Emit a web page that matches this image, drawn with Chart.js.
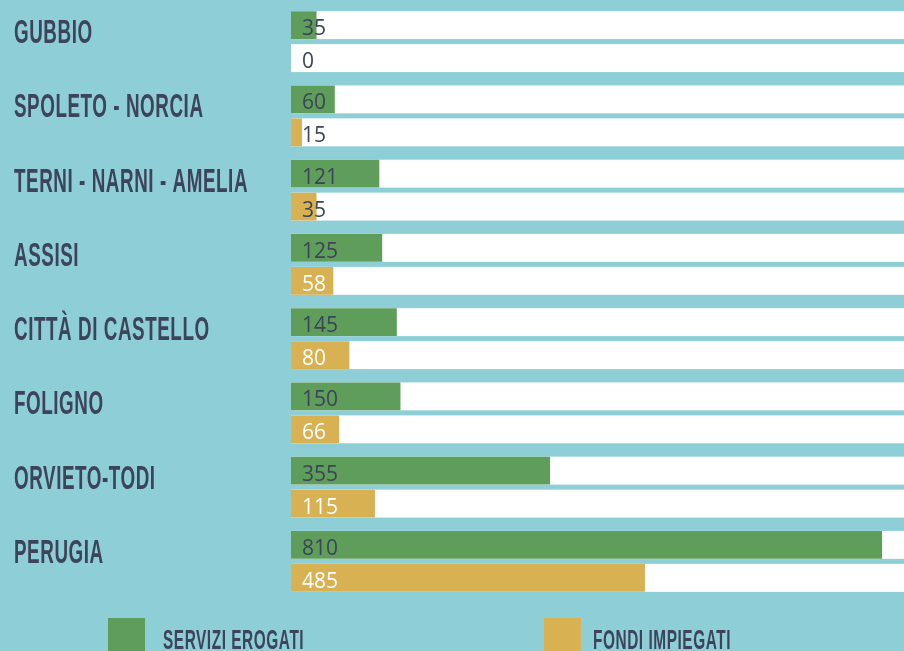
<!DOCTYPE html>
<html>
<head>
<meta charset="utf-8">
<script src="https://cdn.jsdelivr.net/npm/chart.js@4.4.0/dist/chart.umd.min.js"></script>
<style>
    body { margin: 0; background: #8dced7; }
    canvas { display: block; }
</style>
</head>
<body>
<canvas id="grafico" width="904" height="651"></canvas>
<script>
// dati
const zone = ['GUBBIO', 'SPOLETO - NORCIA', 'TERNI - NARNI - AMELIA', 'ASSISI', 'CITTÀ DI CASTELLO', 'FOLIGNO', 'ORVIETO-TODI', 'PERUGIA'];
const serviziErogati = [35, 60, 121, 125, 145, 150, 355, 810];
const fondiImpiegati = [0, 15, 35, 58, 80, 66, 115, 485];
const maxScala = 840;

const coloreTesto = '#3d4459';
const verde = '#5f9e5a';
const oro = '#d8b152';

// fondo bianco dietro ogni barra, fino al bordo destro
const sfondoBarre = {
    id: 'sfondoBarre',
    beforeDatasetsDraw(chart) {
        const ctx = chart.ctx;
        const area = chart.chartArea;
        ctx.save();
        ctx.fillStyle = '#ffffff';
        chart.data.datasets.forEach(function (ds, i) {
            chart.getDatasetMeta(i).data.forEach(function (el) {
                const p = el.getProps(['y', 'height'], true);
                ctx.fillRect(area.left, p.y - p.height / 2, area.right - area.left, p.height);
            });
        });
        ctx.restore();
    }
};

// numeri dentro le barre
const valoriBarre = {
    id: 'valoriBarre',
    afterDatasetsDraw(chart) {
        const ctx = chart.ctx;
        ctx.save();
        ctx.font = '21px "Open Sans"';
        ctx.textBaseline = 'alphabetic';
        chart.data.datasets.forEach(function (ds, i) {
            chart.getDatasetMeta(i).data.forEach(function (el, j) {
                const p = el.getProps(['x', 'y', 'base'], true);
                const testo = String(ds.data[j]);
                const x = p.base + 11;
                const larghezza = ctx.measureText(testo).width;
                if (i == 1 && x + larghezza + 2 <= p.x) {
                    ctx.fillStyle = '#ffffff';
                } else {
                    ctx.fillStyle = coloreTesto;
                }
                ctx.fillText(testo, x, p.y + 10);
            });
        });
        ctx.restore();
    }
};

// nomi delle zone e legenda
const etichette = {
    id: 'etichette',
    afterDraw(chart) {
        const ctx = chart.ctx;
        const scalaY = chart.scales.y;
        ctx.save();
        ctx.fillStyle = coloreTesto;
        ctx.textBaseline = 'alphabetic';
        ctx.font = 'bold 33px "Liberation Sans"';
        ctx.letterSpacing = '1px';
        zone.forEach(function (nome, i) {
            const y = scalaY.getPixelForValue(i);
            ctx.save();
            ctx.translate(14, y + 1.5);
            ctx.scale(0.57, 1);
            ctx.fillText(nome, 0, 0);
            ctx.restore();
        });

        const legenda = [[108, 163], [544, 593]];
        ctx.font = 'bold 28px "Liberation Sans"';
        chart.data.datasets.forEach(function (ds, i) {
            ctx.fillStyle = ds.backgroundColor;
            ctx.fillRect(legenda[i][0], 618, 37, 40);
            ctx.save();
            ctx.fillStyle = coloreTesto;
            ctx.translate(legenda[i][1], 649);
            ctx.scale(0.55, 1);
            ctx.fillText(ds.label, 0, 0);
            ctx.restore();
        });
        ctx.restore();
    }
};

const config = {
    type: 'bar',
    data: {
        labels: zone,
        datasets: [{
            label: 'SERVIZI EROGATI',
            data: serviziErogati,
            backgroundColor: verde,
            categoryPercentage: 0.888,
            barPercentage: 0.848
        }, {
            label: 'FONDI IMPIEGATI',
            data: fondiImpiegati,
            backgroundColor: oro,
            categoryPercentage: 0.888,
            barPercentage: 0.848
        }]
    },
    options: {
        indexAxis: 'y',
        responsive: false,
        animation: false,
        layout: { padding: { left: 291, right: 0, top: 4.5, bottom: 52.5 } },
        scales: {
            x: { display: false, min: 0, max: maxScala },
            y: { display: false }
        },
        plugins: {
            legend: { display: false },
            tooltip: { enabled: false }
        }
    },
    plugins: [sfondoBarre, valoriBarre, etichette]
};

var ctx = document.getElementById('grafico').getContext('2d');
let myChart = new Chart(ctx, config);
</script>
</body>
</html>
